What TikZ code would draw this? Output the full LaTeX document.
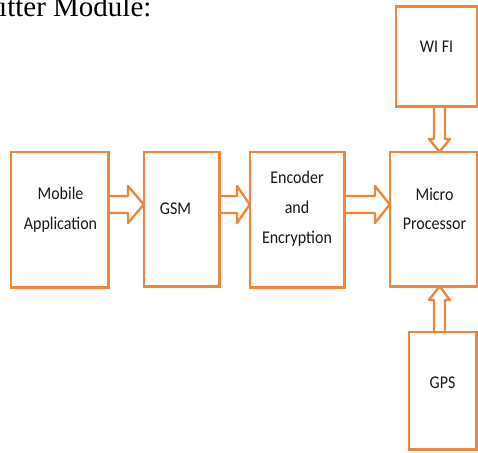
\documentclass[tikz,border=0pt]{standalone}
\usepackage{fontspec}
\usepackage{graphicx}
\usetikzlibrary{calc}
\setmainfont{Carlito}
\newfontfamily\titlefont{Liberation Serif}
\definecolor{boxorange}{RGB}{237,135,60}
\definecolor{txtgray}{RGB}{25,25,25}
\newcommand{\boxlines}[1]{\scalebox{1}[1.12]{\begin{tabular}{@{}c@{}}#1\end{tabular}}}
\begin{document}
\begin{tikzpicture}[x=1pt,y=-1pt,
  boxtext/.style={align=center,text=txtgray,font=\fontsize{16}{26.5}\selectfont,inner sep=0pt},
  blk/.style={draw=boxorange,line width=2.4pt,fill=white,line join=round},
  outline/.style={draw=boxorange,line width=2.6pt}]
\useasboundingbox (0,0) rectangle (478,452);
% title
\node[anchor=base west,inner sep=0pt,font=\titlefont\fontsize{29}{32}\selectfont,text=black] (title) at (-1,17) {itter Module:};
% boxes (placed first, outlines drawn after the arrows)
\path
  (59.5,219.5) node[minimum width=97pt,minimum height=135pt,inner sep=0pt] (mob) {}
  (181.5,219) node[minimum width=75pt,minimum height=134pt,inner sep=0pt] (gsm) {}
  (297,219.5) node[minimum width=94pt,minimum height=135pt,inner sep=0pt] (enc) {}
  (433.5,219) node[minimum width=87pt,minimum height=134pt,inner sep=0pt] (mic) {}
  (436.5,56.5) node[minimum width=81pt,minimum height=99pt,inner sep=0pt] (wifi) {}
  (442.5,390.5) node[minimum width=67pt,minimum height=117pt,inner sep=0pt] (gps) {};
% block arrows
\draw[blk] (mob.east |- 0,196) -- (128,196) -- (128,186) -- (gsm.west |- 0,204.5)
  -- (128,223) -- (128,213) -- (mob.east |- 0,213);
\draw[blk] (gsm.east |- 0,196) -- (237,196) -- (237,186) -- (enc.west |- 0,204.5)
  -- (237,223) -- (237,213) -- (gsm.east |- 0,213);
\draw[blk] (enc.east |- 0,196) -- (375,196) -- (375,186) -- (mic.west |- 0,204.5)
  -- (375,223) -- (375,213) -- (enc.east |- 0,213);
\draw[blk] (434,0 |- wifi.south) -- (434,139) -- (429,139) -- (439.5,0 |- mic.north)
  -- (450,139) -- (445,139) -- (445,0 |- wifi.south);
\draw[blk] (434,0 |- gps.north) -- (434,300) -- (429,300) -- (439.5,0 |- mic.south)
  -- (450,300) -- (445,300) -- (445,0 |- gps.north);
% box outlines
\foreach \b in {mob,gsm,enc,mic,wifi,gps}
  \draw[outline] (\b.north west) rectangle (\b.south east);
% texts
\node[boxtext] (mobt) at ($(mob.center)+(1,-11)$) {\boxlines{Mobile\\Application}};
\node[boxtext] (gsmt) at ($(gsm.center)+(-6,-10)$) {\boxlines{GSM}};
\node[boxtext] (enct) at ($(enc.center)+(0,-12)$) {\boxlines{Encoder\\and\\Encryption}};
\node[boxtext] (mict) at ($(mic.center)+(1,-10)$) {\boxlines{Micro\\Processor}};
\node[boxtext] (wifit) at ($(wifi.center)+(0,-10)$) {\boxlines{WI FI}};
\node[boxtext] (gpst) at ($(gps.center)+(0,-8)$) {\boxlines{GPS}};
\end{tikzpicture}
\end{document}
